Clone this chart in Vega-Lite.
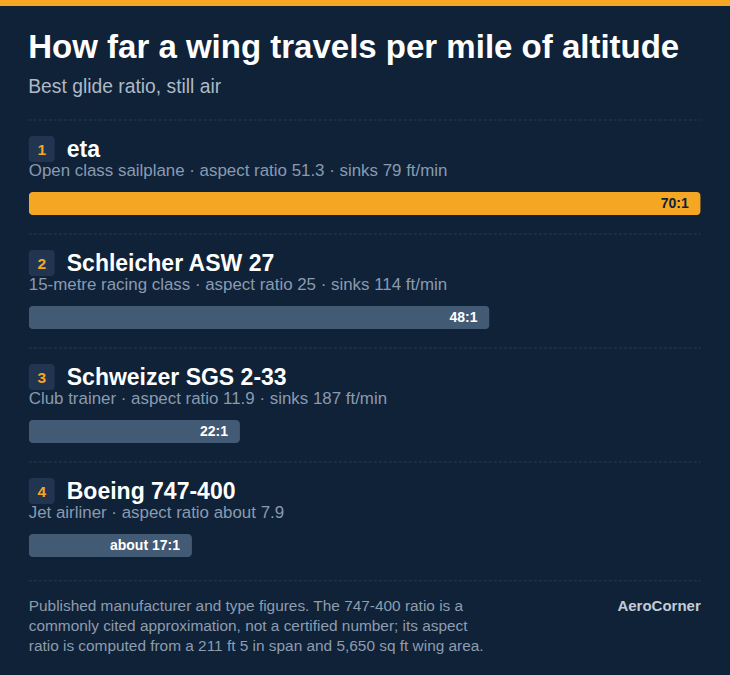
{
  "$schema": "https://vega.github.io/schema/vega-lite/v6.json",
  "padding": 0,
  "spacing": 0,
  "center": true,
  "vconcat": [
    {
      "width": 730,
      "height": 6,
      "view": {"fill": "#f5a623", "stroke": null},
      "data": {"values": [{}]},
      "mark": {"type": "point", "opacity": 0},
      "encoding": {}
    },
    {
      "width": 730,
      "height": 26,
      "data": {"values": [{}]},
      "mark": {"type": "point", "opacity": 0},
      "encoding": {}
    },
    {
      "width": 672,
      "height": 456,
      "title": {
        "text": "How far a wing travels per mile of altitude",
        "subtitle": "Best glide ratio, still air",
        "anchor": "start",
        "font": "Liberation Sans",
        "fontSize": 33,
        "fontWeight": "bold",
        "color": "#ffffff",
        "subtitleFont": "Liberation Sans",
        "subtitleFontSize": 19.3,
        "subtitleColor": "#aeb9c6",
        "subtitlePadding": 13,
        "offset": 22
      },
      "data": {
        "values": [
          {"rank": 1, "name": "eta", "desc": "Open class sailplane · aspect ratio 51.3 · sinks 79 ft/min", "glide": 70, "label": "70:1"},
          {"rank": 2, "name": "Schleicher ASW 27", "desc": "15-metre racing class · aspect ratio 25 · sinks 114 ft/min", "glide": 48, "label": "48:1"},
          {"rank": 3, "name": "Schweizer SGS 2-33", "desc": "Club trainer · aspect ratio 11.9 · sinks 187 ft/min", "glide": 22, "label": "22:1"},
          {"rank": 4, "name": "Boeing 747-400", "desc": "Jet airliner · aspect ratio about 7.9", "glide": 17, "label": "about 17:1"}
        ]
      },
      "encoding": {
        "y": {
          "field": "rank",
          "type": "ordinal",
          "scale": {"type": "band", "paddingInner": 0, "paddingOuter": 0},
          "axis": null
        }
      },
      "layer": [
        {
          "mark": {"type": "rule", "color": "#263a52", "strokeWidth": 1, "strokeDash": [3, 2]},
          "encoding": {
            "y": {"field": "rank", "type": "ordinal", "bandPosition": 0},
            "x": {"datum": 0, "type": "quantitative", "scale": {"domain": [0, 70]}, "axis": null},
            "x2": {"datum": 70}
          }
        },
        {
          "mark": {"type": "bar", "height": 23, "yOffset": 26.5, "cornerRadius": 4},
          "encoding": {
            "x": {"field": "glide", "type": "quantitative", "scale": {"domain": [0, 70]}, "axis": null},
            "color": {"condition": {"test": "datum.rank == 1", "value": "#f5a623"}, "value": "#435a75"}
          }
        },
        {
          "mark": {"type": "text", "align": "right", "baseline": "middle", "dx": -12, "dy": 26.5, "font": "Liberation Sans", "fontSize": 14, "fontWeight": "bold"},
          "encoding": {
            "x": {"field": "glide", "type": "quantitative"},
            "text": {"field": "label"},
            "color": {"condition": {"test": "datum.rank == 1", "value": "#0f2238"}, "value": "#ffffff"}
          }
        },
        {
          "mark": {
            "type": "point",
            "shape": "M-0.7,-1H0.7Q1,-1,1,-0.7V0.7Q1,1,0.7,1H-0.7Q-1,1,-1,0.7V-0.7Q-1,-1,-0.7,-1Z",
            "size": 676,
            "filled": true,
            "opacity": 1,
            "color": "#213450",
            "xOffset": 13,
            "yOffset": -28
          },
          "encoding": {
            "x": {"datum": 0, "type": "quantitative"}
          }
        },
        {
          "mark": {"type": "text", "align": "center", "baseline": "middle", "dx": 13, "dy": -27, "font": "Liberation Sans", "fontSize": 15.5, "fontWeight": "bold", "color": "#f5a623"},
          "encoding": {
            "x": {"datum": 0, "type": "quantitative"},
            "text": {"field": "rank"}
          }
        },
        {
          "mark": {"type": "text", "align": "left", "baseline": "alphabetic", "dx": 38, "dy": -20, "font": "Liberation Sans", "fontSize": 23, "fontWeight": "bold", "color": "#ffffff"},
          "encoding": {
            "x": {"datum": 0, "type": "quantitative"},
            "text": {"field": "name"}
          }
        },
        {
          "mark": {"type": "text", "align": "left", "baseline": "alphabetic", "dy": -1, "font": "Liberation Sans", "fontSize": 16.9, "color": "#8a9ab0"},
          "encoding": {
            "x": {"datum": 0, "type": "quantitative"},
            "text": {"field": "desc"}
          }
        }
      ]
    },
    {
      "width": 672,
      "height": 99,
      "data": {
        "values": [
          {"line": 1, "text": "Published manufacturer and type figures. The 747-400 ratio is a"},
          {"line": 2, "text": "commonly cited approximation, not a certified number; its aspect"},
          {"line": 3, "text": "ratio is computed from a 211 ft 5 in span and 5,650 sq ft wing area."}
        ]
      },
      "encoding": {
        "y": {
          "field": "line",
          "type": "ordinal",
          "scale": {"type": "band", "paddingInner": 0, "paddingOuter": 1.105},
          "axis": null
        }
      },
      "layer": [
        {
          "transform": [{"filter": "datum.line == 1"}],
          "mark": {"type": "rule", "color": "#263a52", "strokeWidth": 1, "strokeDash": [3, 2], "yOffset": -15},
          "encoding": {
            "y": {"field": "line", "type": "ordinal", "bandPosition": 0},
            "x": {"datum": 0, "type": "quantitative", "scale": {"domain": [0, 70]}, "axis": null},
            "x2": {"datum": 70}
          }
        },
        {
          "mark": {"type": "text", "align": "left", "baseline": "middle", "dy": 0.5, "font": "Liberation Sans", "fontSize": 15.4, "color": "#8e9cae"},
          "encoding": {
            "x": {"datum": 0, "type": "quantitative"},
            "text": {"field": "text"}
          }
        },
        {
          "data": {"values": [{"line": 1, "text": "AeroCorner"}]},
          "mark": {"type": "text", "align": "right", "baseline": "middle", "dy": 0.5, "font": "Liberation Sans", "fontSize": 15, "fontWeight": "bold", "color": "#c3ccd6"},
          "encoding": {
            "x": {"datum": 70, "type": "quantitative"},
            "text": {"field": "text"}
          }
        }
      ]
    }
  ],
  "config": {
    "background": "#0f2238",
    "view": {"stroke": null},
    "font": "Liberation Sans"
  }
}
